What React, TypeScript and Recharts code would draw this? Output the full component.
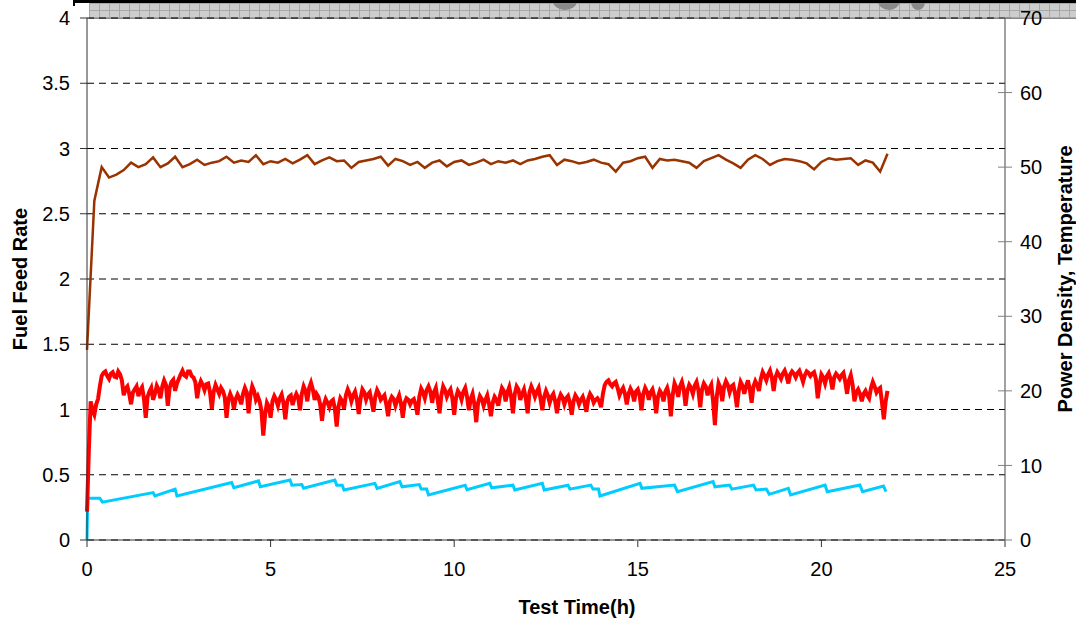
import { LineChart, Line, XAxis, YAxis, CartesianGrid } from "recharts";

// axis ticks
const timeTicks = [0, 5, 10, 15, 20, 25];
const feedTicks = [0, 0.5, 1, 1.5, 2, 2.5, 3, 3.5, 4];
const rightTicks = [0, 10, 20, 30, 40, 50, 60, 70];

// fuel feed rate (left axis) - sawtooth, read at each corner
const feedTimes = [
  0, 0.02, 0.35, 0.42, 1.8, 1.85, 2.4, 2.45, 3.94, 4.0,
  4.67, 4.72, 5.53, 5.58, 5.85, 5.9, 6.75, 6.8, 6.95, 7.0,
  7.84, 7.9, 8.52, 8.58, 9.05, 9.1, 9.25, 9.3, 10.3, 10.35,
  10.97, 11.02, 11.6, 11.65, 12.4, 12.45, 13.1, 13.15, 13.72, 13.78,
  13.93, 13.97, 15.06, 15.11, 16.0, 16.08, 17.05, 17.1, 17.5, 17.56,
  18.15, 18.22, 18.5, 18.58, 19.1, 19.16, 20.1, 20.16, 21.05, 21.12,
  21.69, 21.76,
];
const feedValues = [
  0, 0.32, 0.32, 0.29, 0.363, 0.337, 0.39, 0.337, 0.44, 0.4,
  0.453, 0.408, 0.46, 0.42, 0.425, 0.396, 0.46, 0.42, 0.42, 0.383,
  0.434, 0.396, 0.447, 0.408, 0.425, 0.39, 0.39, 0.345, 0.42, 0.385,
  0.434, 0.4, 0.42, 0.383, 0.434, 0.383, 0.42, 0.39, 0.421, 0.39,
  0.39, 0.337, 0.434, 0.396, 0.421, 0.37, 0.447, 0.408, 0.421, 0.39,
  0.421, 0.383, 0.39, 0.35, 0.396, 0.345, 0.421, 0.37, 0.421, 0.37,
  0.413, 0.37,
];

// power density (right axis), one reading every 0.05 h, one row per hour
const powerStep = 0.05;
const powerValues = [
  3.8, 12.0, 18.6, 17.4, 16.8, 18.2, 18.9, 20.6, 22.0, 22.4, 22.6, 22.0, 21.6, 22.3, 22.5, 21.9, 21.8, 22.6, 22.2, 21.4,
  19.4, 20.3, 20.6, 19.6, 18.2, 19.8, 20.2, 20.6, 19.3, 20.1, 20.5, 19.0, 16.4, 19.2, 19.9, 20.4, 18.8, 19.6, 20.7, 20.2,
  19.0, 20.6, 21.4, 20.8, 18.0, 20.4, 21.2, 21.5, 20.0, 21.0, 21.6, 22.2, 22.7, 22.1, 21.9, 22.6, 22.6, 22.0, 21.8, 21.2,
  19.0, 20.6, 21.3, 20.8, 20.1, 20.9, 21.0, 19.8, 17.6, 19.9, 20.8, 20.2, 19.6, 20.4, 20.0, 19.2, 16.4, 18.8, 19.6, 19.0,
  17.6, 18.9, 19.5, 19.0, 18.2, 19.6, 20.4, 19.8, 17.0, 19.4, 20.6, 20.0, 18.8, 19.3, 18.6, 17.4, 14.0, 16.8, 18.4, 17.9,
  16.4, 18.6, 19.3, 18.8, 18.0, 19.0, 19.5, 18.4, 16.2, 18.5, 19.2, 19.4, 18.1, 19.0, 19.6, 19.1, 17.4, 19.6, 20.6, 20.0,
  18.6, 20.4, 21.1, 20.2, 18.8, 19.6, 19.2, 18.2, 16.0, 18.1, 18.9, 18.4, 17.8, 18.6, 18.8, 17.6, 15.2, 17.9, 19.0, 18.6,
  17.6, 19.4, 20.2, 19.6, 18.6, 19.4, 19.9, 18.8, 16.9, 19.0, 20.2, 19.8, 18.8, 19.5, 19.8, 18.6, 17.2, 19.2, 20.1, 19.6,
  18.8, 19.1, 19.4, 18.2, 16.6, 18.6, 19.2, 18.9, 18.0, 18.8, 19.4, 18.3, 16.4, 18.4, 19.0, 18.8, 18.2, 18.7, 18.9, 18.1,
  16.8, 19.2, 20.3, 19.8, 19.0, 20.1, 20.6, 19.9, 18.4, 19.8, 20.4, 18.8, 17.0, 19.4, 20.6, 20.1, 19.2, 19.8, 20.2, 19.0,
  16.8, 19.1, 20.0, 19.6, 18.8, 19.9, 20.4, 19.2, 17.4, 18.9, 19.6, 18.2, 15.8, 18.4, 19.3, 18.9, 18.0, 18.8, 19.4, 18.2,
  16.6, 18.4, 19.2, 18.8, 18.0, 19.4, 20.4, 20.0, 18.6, 19.8, 20.5, 19.2, 17.0, 19.6, 20.6, 20.2, 18.8, 19.6, 20.2, 19.0,
  17.0, 19.8, 20.6, 20.0, 19.2, 19.9, 20.4, 19.0, 17.4, 19.2, 20.0, 19.4, 18.4, 19.2, 19.6, 18.6, 17.0, 18.8, 19.5, 19.1,
  18.2, 19.0, 19.3, 18.4, 16.8, 18.6, 19.4, 19.0, 18.2, 18.8, 19.2, 18.4, 17.2, 18.9, 19.6, 19.2, 18.4, 18.8, 19.0, 18.6,
  17.8, 19.6, 20.8, 21.2, 21.4, 20.9, 20.6, 21.0, 21.2, 20.4, 19.4, 20.0, 20.4, 19.6, 18.2, 19.6, 20.3, 19.8, 18.6, 19.9,
  20.2, 19.4, 17.4, 19.6, 20.4, 19.9, 18.8, 19.8, 20.2, 19.2, 17.0, 19.2, 20.0, 19.6, 18.6, 19.9, 20.4, 19.4, 16.6, 19.4,
  21.0, 20.4, 19.2, 20.6, 21.2, 20.2, 18.0, 20.0, 20.8, 20.4, 19.6, 20.7, 21.2, 20.1, 17.8, 20.2, 21.0, 20.6, 19.4, 20.3,
  20.8, 18.6, 15.4, 19.2, 21.0, 20.4, 18.6, 20.6, 21.3, 20.8, 19.8, 20.6, 20.8, 19.6, 17.8, 20.0, 21.2, 20.7, 19.6, 20.6,
  21.4, 20.2, 18.4, 20.6, 21.3, 20.8, 20.0, 21.6, 22.5, 22.0, 21.4, 22.2, 22.7, 21.8, 20.0, 21.8, 22.5, 22.1, 21.6, 22.3,
  22.7, 22.0, 21.0, 22.2, 22.6, 22.3, 21.8, 22.4, 22.7, 22.0, 21.2, 22.1, 22.6, 22.4, 22.0, 22.3, 22.5, 21.6, 19.0, 20.8,
  22.2, 21.8, 21.0, 22.0, 22.4, 21.6, 20.2, 21.8, 22.3, 22.0, 21.6, 22.1, 22.4, 21.2, 19.6, 21.4, 22.1, 20.8, 18.6, 19.8,
  20.2, 19.6, 18.6, 19.6, 20.0, 19.4, 19.0, 20.4, 21.2, 20.6, 19.8, 20.2, 20.4, 18.4, 16.2, 18.6, 20.0,
];

// temperature (right axis), one reading every 0.2 h
const tempStep = 0.2;
const tempValues = [
  25.5, 45.5, 50.0, 48.6, 49.0, 49.6, 50.6, 50.0, 50.4, 51.3,
  50.0, 50.5, 51.4, 50.0, 50.4, 51.0, 50.3, 50.6, 50.8, 51.4,
  50.6, 50.9, 50.7, 51.6, 50.4, 50.8, 50.6, 51.1, 50.5, 51.0,
  51.6, 50.4, 50.9, 51.3, 50.8, 50.9, 49.9, 50.7, 50.9, 51.1,
  51.4, 50.2, 51.1, 50.8, 50.3, 50.7, 49.9, 50.6, 50.9, 50.1,
  50.7, 50.9, 50.3, 50.6, 51.0, 50.4, 50.8, 50.6, 50.9, 50.4,
  50.9, 51.1, 51.4, 51.6, 50.3, 51.0, 50.8, 50.5, 50.7, 51.0,
  50.6, 50.4, 49.4, 50.6, 50.8, 51.2, 51.4, 49.9, 51.1, 50.9,
  51.0, 50.8, 50.6, 49.9, 50.8, 51.2, 51.6, 51.0, 50.5, 49.9,
  51.0, 51.6, 51.1, 50.3, 50.8, 51.1, 51.0, 50.8, 50.5, 49.7,
  50.7, 51.2, 51.0, 51.1, 51.2, 50.3, 50.9, 50.6, 49.4, 51.8,
];

const feedData = feedTimes.map((t, i) => ({ t, v: feedValues[i] }));
const powerData = powerValues.map((v, i) => ({ t: Math.round(i * powerStep * 100) / 100, v }));
const tempData = tempValues.map((v, i) => ({ t: Math.round(i * tempStep * 10) / 10, v }));

const tickFont = { fill: "#000", fontSize: 20 };
const titleStyle = { fontWeight: "bold", fontSize: 20, fill: "#000", textAnchor: "middle" as const };

export default function App() {
  return (
    <div
      style={{
        position: "absolute",
        left: 0,
        top: 0,
        width: 1076,
        height: 618,
        background: "#fff",
        fontFamily: "'Liberation Sans', Arial, sans-serif",
        overflow: "hidden",
      }}
    >
      {/* cut-off box along the top edge, drawn under the chart */}
      <div
        style={{
          position: "absolute",
          left: 89,
          top: 3,
          width: 987,
          height: 15,
          backgroundColor: "#cdcdcd",
          backgroundImage:
            "linear-gradient(#a8a8a8 1px, transparent 1px), linear-gradient(90deg, #a8a8a8 1px, transparent 1px)",
          backgroundSize: "10px 7px",
          borderBottom: "1px solid #888",
        }}
      />
      <div style={{ position: "absolute", left: 553, top: -8, width: 24, height: 18, borderRadius: "50%", background: "#8a8a8a" }} />
      <div style={{ position: "absolute", left: 878, top: -8, width: 22, height: 18, borderRadius: "50%", background: "#8a8a8a" }} />
      <div style={{ position: "absolute", left: 911, top: -6, width: 14, height: 16, borderRadius: "50%", background: "#8a8a8a" }} />
      <div style={{ position: "absolute", left: 73, top: 0, width: 1003, height: 3, background: "#000" }} />
      <div style={{ position: "absolute", left: 73, top: 0, width: 2, height: 6, background: "#000" }} />

      <div style={{ position: "relative" }}>
        <LineChart width={1076} height={618} margin={{ top: 18, right: 0, bottom: 0, left: 0 }}>
          <CartesianGrid yAxisId="left" vertical={false} stroke="#000" strokeDasharray="7 5" />
          <XAxis
            dataKey="t"
            type="number"
            domain={[0, 25]}
            ticks={timeTicks}
            height={78}
            tickSize={7}
            tickMargin={15}
            stroke="#333"
            tick={tickFont}
            label={{ value: "Test Time(h)", position: "insideBottom", offset: 4, dx: 31, style: titleStyle }}
          />
          <YAxis
            yAxisId="left"
            width={87}
            domain={[0, 4]}
            ticks={feedTicks}
            tickSize={7}
            tickMargin={10}
            stroke="#333"
            tick={tickFont}
            label={{ value: "Fuel Feed Rate", angle: -90, position: "insideLeft", offset: 20, style: titleStyle }}
          />
          <YAxis
            yAxisId="right"
            orientation="right"
            width={71}
            domain={[0, 70]}
            ticks={rightTicks}
            tickSize={14}
            tickMargin={1}
            stroke="#444"
            tickLine={{ stroke: "#808080", transform: "translate(-7, 0)" }}
            tick={tickFont}
            label={{
              value: "Power Density, Temperature",
              angle: -90,
              position: "insideRight",
              offset: 11,
              style: titleStyle,
            }}
          />
          <Line
            yAxisId="left"
            data={feedData}
            dataKey="v"
            name="Fuel Feed Rate"
            stroke="#00CCFF"
            strokeWidth={3}
            dot={false}
            activeDot={false}
            isAnimationActive={false}
          />
          <Line
            yAxisId="right"
            data={tempData}
            dataKey="v"
            name="Temperature"
            stroke="#993300"
            strokeWidth={2.5}
            dot={false}
            activeDot={false}
            isAnimationActive={false}
          />
          <Line
            yAxisId="right"
            data={powerData}
            dataKey="v"
            name="Power Density"
            stroke="#FF0000"
            strokeWidth={4}
            dot={false}
            activeDot={false}
            isAnimationActive={false}
          />
        </LineChart>
      </div>
    </div>
  );
}
